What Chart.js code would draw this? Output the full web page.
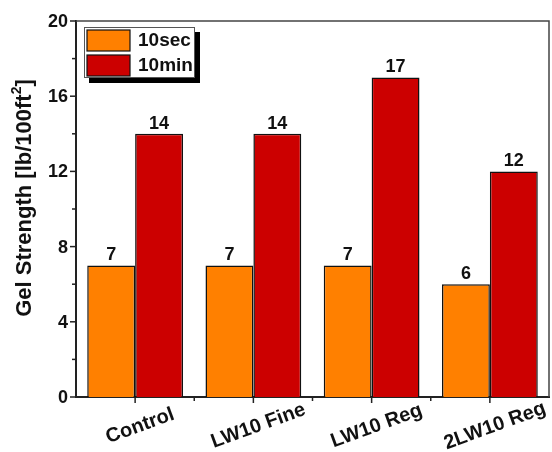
<!DOCTYPE html>
<html>
<head>
<meta charset="utf-8">
<script src="https://cdn.jsdelivr.net/npm/chart.js@4/dist/chart.umd.min.js"></script>
<style>
html,body{margin:0;padding:0;background:#fff;}
#wrap{width:552px;height:452px;}
</style>
</head>
<body>
<div id="wrap"><canvas id="c" width="552" height="452"></canvas></div>
<script>
const categories = ['Control', 'LW10 Fine', 'LW10 Reg', '2LW10 Reg'];
const seriesNames = ['10sec', '10min'];
const sec10 = [7, 7, 7, 6];
const min10 = [14, 14, 17, 12];
const yTickValues = [0, 4, 8, 12, 16, 20];
const yMinorValues = [2, 6, 10, 14, 18];
const yTitle = 'Gel Strength [lb/100ft';
const yTitleSup = '2';
const yTitleEnd = ']';

const FONT = '"Liberation Sans", Arial, sans-serif';
const AX = '#222';

const overlay = {
  id: 'overlay',
  afterDraw(chart) {
    const ctx = chart.ctx;
    const a = chart.chartArea;
    const xs = chart.scales.x, ys = chart.scales.y;
    ctx.save();
    // frame top/right
    ctx.strokeStyle = '#444';
    ctx.lineWidth = 1.5;
    ctx.beginPath();
    ctx.moveTo(a.left, a.top);
    ctx.lineTo(a.right, a.top);
    ctx.lineTo(a.right, a.bottom);
    ctx.stroke();

    // y ticks
    ctx.strokeStyle = AX;
    ctx.lineWidth = 1.5;
    ctx.fillStyle = '#111';
    ctx.font = 'bold 18px ' + FONT;
    ctx.textAlign = 'right';
    ctx.textBaseline = 'middle';
    yTickValues.forEach(v => {
      const y = ys.getPixelForValue(v);
      ctx.beginPath(); ctx.moveTo(a.left - 6, y); ctx.lineTo(a.left, y); ctx.stroke();
      ctx.fillText(String(v), a.left - 8, y + 1);
    });
    yMinorValues.forEach(v => {
      const y = ys.getPixelForValue(v);
      ctx.beginPath(); ctx.moveTo(a.left - 4, y); ctx.lineTo(a.left, y); ctx.stroke();
    });

    // x ticks
    const centers = categories.map((c, i) => xs.getPixelForValue(i));
    centers.forEach(x => {
      ctx.beginPath(); ctx.moveTo(x, a.bottom); ctx.lineTo(x, a.bottom + 6); ctx.stroke();
    });
    for (let i = 0; i < centers.length - 1; i++) {
      const x = (centers[i] + centers[i + 1]) / 2;
      ctx.beginPath(); ctx.moveTo(x, a.bottom); ctx.lineTo(x, a.bottom + 4); ctx.stroke();
    }

    // x labels rotated
    ctx.font = 'bold 20px ' + FONT;
    ctx.textAlign = 'center';
    ctx.textBaseline = 'middle';
    categories.forEach((c, i) => {
      ctx.save();
      ctx.translate(centers[i] + 5, a.bottom + 29);
      ctx.rotate(-20 * Math.PI / 180);
      ctx.fillText(c, 0, 0);
      ctx.restore();
    });

    // data labels
    ctx.font = 'bold 18px ' + FONT;
    ctx.textAlign = 'center';
    ctx.textBaseline = 'alphabetic';
    chart.data.datasets.forEach((ds, di) => {
      const meta = chart.getDatasetMeta(di);
      meta.data.forEach((bar, j) => {
        ctx.fillText(String(ds.data[j]), bar.x, bar.y - 5);
      });
    });

    // y title
    ctx.save();
    ctx.translate(25, 198);
    ctx.rotate(-Math.PI / 2);
    ctx.font = 'bold 22px ' + FONT;
    const w1 = ctx.measureText(yTitle).width;
    ctx.font = 'bold 14px ' + FONT;
    const w2 = ctx.measureText(yTitleSup).width;
    ctx.font = 'bold 22px ' + FONT;
    const w3 = ctx.measureText(yTitleEnd).width;
    let x0 = -(w1 + w2 + w3) / 2;
    ctx.textAlign = 'left';
    ctx.textBaseline = 'middle';
    ctx.fillText(yTitle, x0, 0);
    ctx.font = 'bold 14px ' + FONT;
    ctx.fillText(yTitleSup, x0 + w1, -8);
    ctx.font = 'bold 22px ' + FONT;
    ctx.fillText(yTitleEnd, x0 + w1 + w2, 0);
    ctx.restore();

    // legend
    const lx = a.left + 8, ly = a.top + 6, lw = 111, lh = 51;
    ctx.fillStyle = '#000';
    ctx.fillRect(lx + 5, ly + 5, lw, lh);
    ctx.fillStyle = '#fff';
    ctx.fillRect(lx, ly, lw, lh);
    ctx.strokeStyle = '#555';
    ctx.lineWidth = 1;
    ctx.strokeRect(lx + 0.5, ly + 0.5, lw - 1, lh - 1);
    ctx.font = 'bold 19px ' + FONT;
    ctx.textAlign = 'left';
    ctx.textBaseline = 'middle';
    chart.data.datasets.forEach((ds, di) => {
      const sy = ly + 3 + di * 25;
      ctx.fillStyle = ds.backgroundColor;
      ctx.fillRect(lx + 3, sy, 43, 21);
      ctx.strokeStyle = '#111';
      ctx.lineWidth = 1.2;
      ctx.strokeRect(lx + 3, sy, 43, 21);
      ctx.fillStyle = '#111';
      ctx.fillText(ds.label, lx + 54, sy + 11);
    });
    ctx.restore();
  }
};

new Chart(document.getElementById('c'), {
  type: 'bar',
  data: {
    labels: categories,
    datasets: [
      { label: seriesNames[0], data: sec10, backgroundColor: '#FF8000', borderColor: '#111', borderWidth: 1.5,
        categoryPercentage: 0.81, barPercentage: 1.0 },
      { label: seriesNames[1], data: min10, backgroundColor: '#CC0000', borderColor: '#111', borderWidth: 1.5,
        categoryPercentage: 0.81, barPercentage: 1.0 }
    ]
  },
  options: {
    responsive: false,
    animation: false,
    layout: { padding: { top: 21, right: 3, left: 0, bottom: 0 } },
    plugins: { legend: { display: false }, tooltip: { enabled: false } },
    scales: {
      x: {
        grid: { display: false },
        ticks: { display: false },
        border: { display: true, color: AX, width: 2 },
        afterFit(s) { s.height = 55; }
      },
      y: {
        min: 0, max: 20,
        ticks: { display: false, stepSize: 4 },
        grid: { display: false },
        border: { display: true, color: AX, width: 2 },
        afterFit(s) { s.width = 76; }
      }
    }
  },
  plugins: [overlay]
});
</script>
</body>
</html>
